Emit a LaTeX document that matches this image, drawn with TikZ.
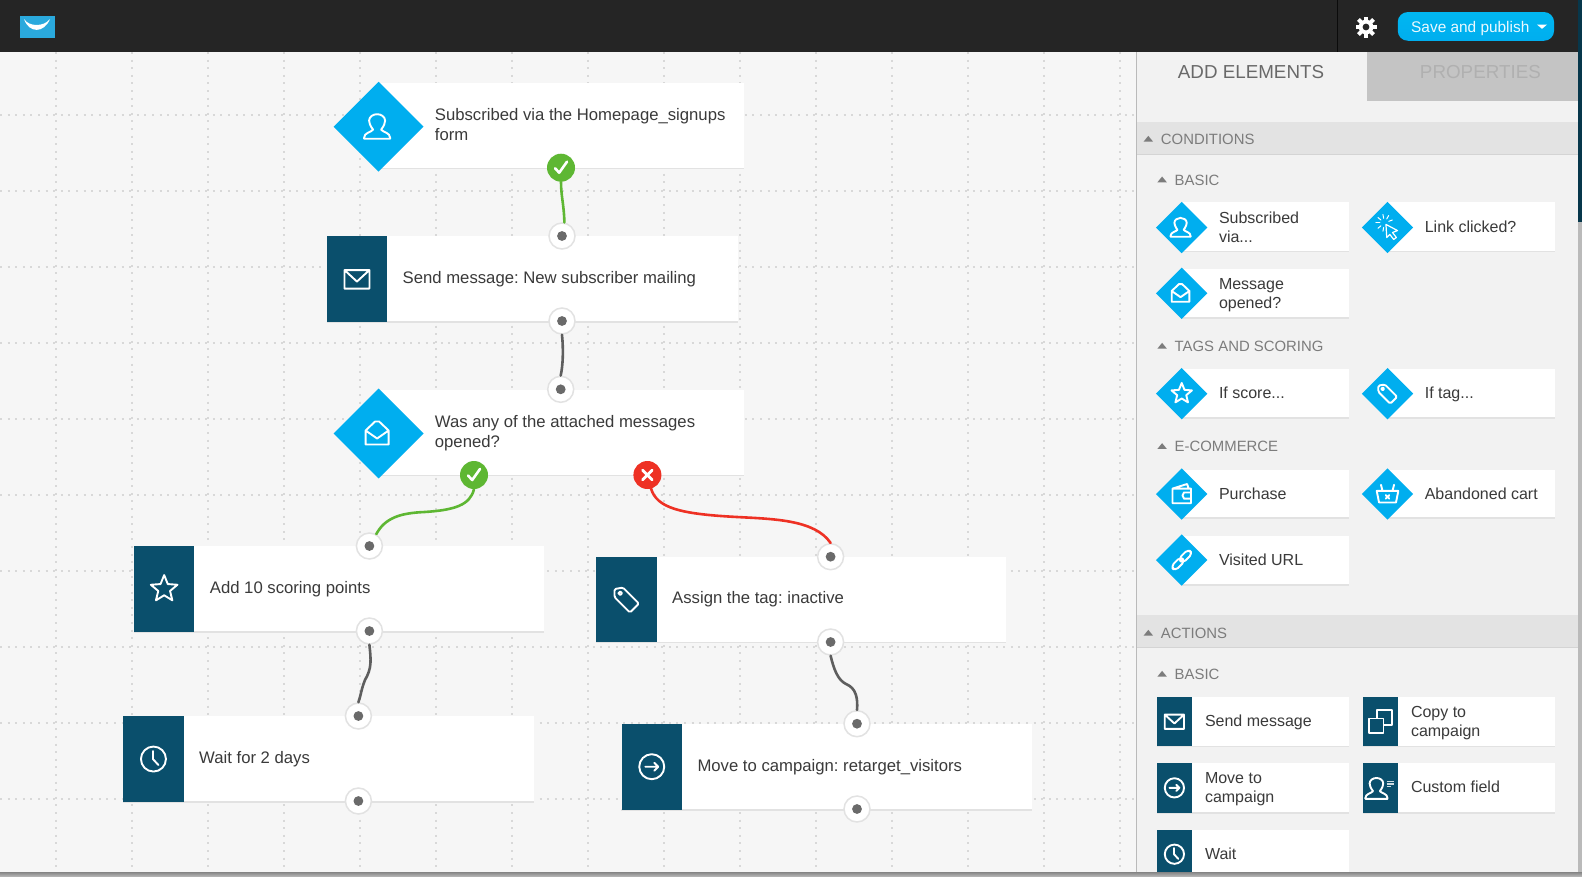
\documentclass[tikz,border=0pt]{standalone}
\usepackage{fontspec}
\setmainfont{Liberation Sans}
\usetikzlibrary{shapes.geometric,calc}
\AtBeginDocument{\frenchspacing}
\definecolor{canvasbg}{HTML}{F6F6F6}
\definecolor{panelbg}{HTML}{F2F2F2}
\definecolor{headerbg}{HTML}{252525}
\definecolor{brandblue}{HTML}{00AEEF}
\definecolor{navy}{HTML}{0A4F6C}
\definecolor{inktext}{HTML}{3A3A3A}
\definecolor{sectext}{HTML}{7C7C7C}
\definecolor{rulegray}{HTML}{E2E2E2}
\definecolor{griddot}{HTML}{D8D8D8}
\definecolor{okgreen}{HTML}{5EB733}
\definecolor{nored}{HTML}{EE3124}
\definecolor{wiregray}{HTML}{5E5E5E}
\definecolor{portdot}{HTML}{6A6A6A}
\definecolor{logoblue}{HTML}{2AA9DD}
\tikzset{
  cardbody/.style={rectangle,fill=white,draw=none,inner sep=0pt,anchor=north west},
  cardrule/.style={draw=rulegray,line width=1.8pt},
  navyblock/.style={rectangle,fill=navy,draw=none,inner sep=0pt,anchor=north west},
  bluediamond/.style={diamond,aspect=1,fill=brandblue,draw=none,inner sep=0pt},
  bigtext/.style={anchor=west,align=left,inner sep=0pt,text=inktext,font=\fontsize{16.7}{20}\selectfont},
  smalltext/.style={anchor=west,align=left,inner sep=0pt,text=inktext,font=\fontsize{16}{19}\selectfont},
  headtext/.style={anchor=west,inner sep=0pt,text=sectext,font=\fontsize{14.9}{18}\selectfont},
  tabtext/.style={anchor=center,inner sep=0pt,font=\fontsize{18.8}{22}\selectfont},
  foldtri/.style={fill=sectext},
  portnode/.style={circle,fill=white,draw=rulegray,line width=1.5pt,minimum size=26pt,inner sep=0pt,
    path picture={\fill[portdot] (path picture bounding box.center) circle (4.9);}},
  oknode/.style={circle,fill=okgreen,draw=none,minimum size=28pt,inner sep=0pt,
    path picture={\draw[white,line width=2.6pt,line cap=round,line join=round]
      ([shift={(-6,0.5)}]path picture bounding box.center) -- ([shift={(-1.8,5)}]path picture bounding box.center) -- ([shift={(6,-6)}]path picture bounding box.center);}},
  nonode/.style={circle,fill=nored,draw=none,minimum size=28pt,inner sep=0pt,
    path picture={\draw[white,line width=2.8pt,line cap=round]
      ([shift={(-4.8,-4.8)}]path picture bounding box.center) -- ([shift={(4.8,4.8)}]path picture bounding box.center)
      ([shift={(4.8,-4.8)}]path picture bounding box.center) -- ([shift={(-4.8,4.8)}]path picture bounding box.center);}},
  wire/.style={line width=2.6pt,line cap=round},
  iconline/.style={draw=white,line width=1.9pt,line join=round,line cap=round},
  person/.pic={\draw[iconline,pic actions,xshift=-1.5pt] (-13,11) .. controls (-13,6) and (-6,5.5) .. (-4,3)
     .. controls (-7,-1) and (-8,-4) .. (-8,-6) .. controls (-8,-10) and (-4,-12.5) .. (0,-12.5)
     .. controls (4,-12.5) and (8,-10) .. (8,-6) .. controls (8,-4) and (7,-1) .. (4,3)
     .. controls (6,5.5) and (13,6) .. (13,11) -- (13,12) -- (-13,12) -- cycle;},
  mailicon/.pic={\draw[iconline,pic actions] (-12.5,-9) rectangle (12.5,9.5) (-12.5,-9) -- (0,2.5) -- (12.5,-9);},
  openmail/.pic={\draw[iconline,pic actions,xshift=-1.5pt] (-11.5,-3) -- (-2,-12) -- (2,-12) -- (11.5,-3) -- (11.5,11) -- (-11.5,11) -- cycle
     (-11.5,-3) -- (0,5) -- (11.5,-3);},
  staricon/.pic={\draw[iconline,pic actions] (0,-14) -- (3.6,-5) -- (13.3,-4.3) -- (5.9,1.9) -- (8.2,11.3) -- (0,6.2)
     -- (-8.2,11.3) -- (-5.9,1.9) -- (-13.3,-4.3) -- (-3.6,-5) -- cycle;},
  tagicon/.pic={\draw[iconline,pic actions,rounded corners=1.5pt] (-12,-10.5) -- (-3.5,-12) -- (12.5,4) -- (3.5,13) -- (-12,-2.5) -- cycle;
     \draw[iconline,pic actions] (-6.3,-6.3) circle (1.8);},
  clockicon/.pic={\draw[iconline,pic actions] (0,0) circle (12.5) (-0.5,-8) -- (-0.5,0) -- (5,6);},
  arrowicon/.pic={\draw[iconline,pic actions] (0,0) circle (12.5) (-6.5,0) -- (6.5,0) (2.5,-4) -- (6.5,0) -- (2.5,4);},
  cursoricon/.pic={\draw[iconline,pic actions,line width=1.2pt] (-2,-4) -- (13,4) -- (6.5,6.5) -- (11.5,13) -- (8,15.5) -- (3,9) -- (-1,13) -- cycle;
     \foreach \a in {100,140,180,220,260,300,340}{\draw[iconline,pic actions,line width=1pt] ($(-4,-6)+(\a:6)$) -- ($(-4,-6)+(\a:11)$);}},
  walleticon/.pic={\draw[iconline,pic actions] (-12,-7) -- (-12,12) -- (12,12) -- (12,-7) -- cycle (-12,-7) -- (7,-13) -- (9,-7)
     (12,-2) -- (3,-2) -- (1,2) -- (3,6) -- (12,6);},
  basketicon/.pic={\draw[iconline,pic actions] (-14,-4) -- (14,-4) -- (11,11) -- (-11,11) -- cycle
     (-6.5,-4) -- (-8.5,-12) (6.5,-4) -- (8.5,-12) (-2.3,1.5) -- (2.3,6) (2.3,1.5) -- (-2.3,6);},
  linkicon/.pic={\begin{scope}[rotate=45]
     \draw[iconline,pic actions,rounded corners=4pt] (-16,-4) rectangle (2,4);
     \draw[iconline,pic actions,rounded corners=4pt] (-2,-4) rectangle (16,4);\end{scope}},
  copyicon/.pic={\draw[iconline,pic actions] (-4,-15) rectangle (15,4);
     \draw[iconline,pic actions,fill=navy] (-15,-4) rectangle (4,15);},
  fieldicon/.pic={\pic[scale=.85] at (-3.5,1) {person};
     \draw[draw=white!80!navy,line width=1.4pt,pic actions] (8,-8) -- (17,-8) (8,-5) -- (17,-5) (8,-2) -- (14,-2);},
  smallicon/.style={scale=.77,line width=1.35pt},
}
% name, cx, cy, right, top, bottom, icon, text
\newcommand\bigcond[8]{%
  \node[cardbody,minimum width=#4-#2,minimum height=#6-#5] (#1) at (#2,#5) {};
  \draw[cardrule] (#1.south west) -- (#1.south east);
  \node[bluediamond,minimum width=90pt,minimum height=90pt] (#1-icon) at (#2,#3) {};
  \pic at (#1-icon.center) {#7};
  \node[bigtext] (#1-text) at (#2+56.1,#3-.2) {#8};}
\newcommand\smallcond[8]{%
  \node[cardbody,minimum width=#4-#2,minimum height=#6-#5] (#1) at (#2,#5) {};
  \draw[cardrule] (#1.south west) -- (#1.south east);
  \node[bluediamond,minimum width=51.6pt,minimum height=51.6pt] (#1-icon) at (#2,#3) {};
  \pic[smallicon] at (#1-icon.center) {#7};
  \node[smalltext] (#1-text) at (#2+37.1,#3+1.4) {#8};}
% name, left, right, top, bottom, icon, text
\newcommand\bigact[7]{%
  \node[cardbody,minimum width=#3-#2,minimum height=#5-#4] (#1) at (#2,#4) {};
  \draw[cardrule] (#1.south west) -- (#1.south east);
  \node[navyblock,minimum width=60.5pt,minimum height=#5-#4] (#1-icon) at (#2,#4) {};
  \pic at (#1-icon.center) {#6};
  \node[bigtext] (#1-text) at (#2+76,{(#4+#5)/2+.5}) {#7};}
\newcommand\smallact[7]{%
  \node[cardbody,minimum width=#3-#2,minimum height=#5-#4] (#1) at (#2,#4) {};
  \draw[cardrule] (#1.south west) -- (#1.south east);
  \node[navyblock,minimum width=35pt,minimum height=#5-#4] (#1-icon) at (#2,#4) {};
  \pic[smallicon] at (#1-icon.center) {#6};
  \node[smalltext] (#1-text) at (#2+48.1,{(#4+#5)/2+1.4}) {#7};}
% name, x of triangle, y, text
\newcommand\foldhead[4]{%
  \fill[foldtri] (#2,#3+2.6) -- (#2+9.4,#3+2.6) -- (#2+4.7,#3-3.2) -- cycle;
  \node[headtext] (#1) at (#2+17.1,#3+1.7) {\strut #4};}
\begin{document}
\begin{tikzpicture}[x=1pt,y=-1pt]
\useasboundingbox (0,0) rectangle (1582,876);
\clip (0,0) rectangle (1582,876);
% backgrounds
\fill[canvasbg] (0,0) rectangle (1582,876);
\foreach \i in {0,...,14}{
  \draw[griddot,line width=1.7pt,dash pattern=on 1.9pt off 5.7pt] ({55.7+76*\i},52) -- ({55.7+76*\i},872);}
\foreach \i in {0,...,9}{
  \draw[griddot,line width=1.7pt,dash pattern=on 1.9pt off 5.7pt] (0,{115+76*\i}) -- (1136,{115+76*\i});}
% header
\fill[headerbg] (0,0) rectangle (1578,52);
\draw[black!70!headerbg,line width=1pt] (1337,0) -- (1337,52);
\fill[logoblue] (19.5,16) rectangle (54.5,37.5);
\fill[white] (24,19) .. controls (29,33.5) and (44,33.5) .. (50,19) .. controls (44,27) and (29,27) .. cycle;
% gear
\foreach \a in {0,45,...,315}{\fill[white,rotate around={\a:(1366,27)}] (1364.1,16.5) rectangle (1367.9,37.5);}
\fill[white] (1366,27) circle (7.3);
\fill[headerbg] (1366,27) circle (3.4);
% publish button
\node[rectangle,rounded corners=10pt,top color=brandblue!90!cyan,bottom color=brandblue,minimum width=156.3pt,minimum height=28.7pt,inner sep=0pt] (publish) at (1475.9,26.4) {};
\node[anchor=west,inner sep=0pt,text=white!92!brandblue,font=\fontsize{15.4}{18}\selectfont] (publish-text) at (1411,29) {\strut Save and publish};
\fill[white] (1537,24.6) -- (1547,24.6) -- (1542,28.8) -- cycle;
% side panel
\fill[panelbg] (1137,52) rectangle (1578,872);
\draw[black!27,line width=1.5pt] (1136.6,52) -- (1136.6,872);
\fill[black!23] (1366.7,52) rectangle (1578,100.7);
\node[tabtext,text=sectext!85!black] (tab-add) at (1251,74) {\strut ADD ELEMENTS};
\node[tabtext,text=black!31] (tab-prop) at (1480.4,74) {\strut PROPERTIES};
\fill[black!11] (1137,121.7) rectangle (1578,154.3);
\draw[black!17,line width=1pt] (1137,154) -- (1578,154);
\fill[black!11] (1137,615.3) rectangle (1578,648);
\draw[black!17,line width=1pt] (1137,647.7) -- (1578,647.7);
\foldhead{h-cond}{1143.6}{139}{CONDITIONS}
\foldhead{h-basic}{1157.4}{179.7}{BASIC}
\foldhead{h-tags}{1157.4}{346}{TAGS AND SCORING}
\foldhead{h-ecom}{1157.4}{446.3}{E-COMMERCE}
\foldhead{h-act}{1143.6}{633}{ACTIONS}
\foldhead{h-abasic}{1157.4}{674}{BASIC}
% palette
\smallcond{p1}{1181.7}{227.5}{1349}{202}{251}{person}{\strut Subscribed\\\strut via...}
\smallcond{p2}{1387.5}{227.5}{1554.3}{202}{251}{cursoricon}{\strut Link clicked?}
\smallcond{p3}{1181.7}{293.3}{1349}{268.3}{317.7}{openmail}{\strut Message\\\strut opened?}
\smallcond{p4}{1181.7}{393.7}{1349}{369}{417.3}{staricon}{\strut If score...}
\smallcond{p5}{1387.5}{393.7}{1554.3}{369}{417.3}{tagicon}{\strut If tag...}
\smallcond{p6}{1181.7}{494}{1349}{469.3}{517.7}{walleticon}{\strut Purchase}
\smallcond{p7}{1387.5}{494}{1554.3}{469.3}{517.7}{basketicon}{\strut Abandoned cart}
\smallcond{p8}{1181.7}{560}{1349}{536}{584.3}{linkicon}{\strut Visited URL}
\smallact{q1}{1156.7}{1349}{696.7}{746}{mailicon}{\strut Send message}
\smallact{q2}{1362.7}{1554.3}{696.7}{746}{copyicon}{\strut Copy to\\\strut campaign}
\smallact{q3}{1156.7}{1349}{763}{812.3}{arrowicon}{\strut Move to\\\strut campaign}
\smallact{q4}{1362.7}{1554.3}{763}{812.3}{fieldicon}{\strut Custom field}
\smallact{q5}{1156.7}{1349}{829.3}{878.7}{clockicon}{\strut Wait}
% flow
\bigcond{n1}{378.6}{126.7}{744}{82.7}{168}{person}{\strut Subscribed via the Homepage\_signups\\\strut form}
\bigact{n2}{326.5}{737.8}{236}{321.7}{mailicon}{\strut Send message: New subscriber mailing}
\bigcond{n3}{378.6}{433.5}{744}{389.5}{475}{openmail}{\strut Was any of the attached messages\\\strut opened?}
\bigact{n4}{133.7}{544}{546}{631.7}{staricon}{\strut Add 10 scoring points}
\bigact{n5}{596}{1006}{556.7}{642}{tagicon}{\strut Assign the tag: inactive}
\bigact{n6}{123}{533.6}{716}{801.7}{clockicon}{\strut Wait for 2 days}
\bigact{n7}{621.3}{1032}{723.7}{809.3}{arrowicon}{\strut Move to campaign: retarget\_visitors}
% ports
\node[oknode] (ok1) at (561,167.7) {};
\node[portnode] (in2) at (562,236) {};
\node[portnode] (out2) at (562,321) {};
\node[portnode] (in3) at (560.7,389.3) {};
\node[oknode] (ok3) at (474,475) {};
\node[nonode] (no3) at (647.4,475) {};
\node[portnode] (in4) at (369.4,546) {};
\node[portnode] (out4) at (369.4,631) {};
\node[portnode] (in5) at (830.6,556.7) {};
\node[portnode] (out5) at (830.6,642) {};
\node[portnode] (in6) at (358.4,716) {};
\node[portnode] (out6) at (358.4,801) {};
\node[portnode] (in7) at (857,723.7) {};
\node[portnode] (out7) at (857,809) {};
% connectors
\draw[wire,okgreen] (ok1.south) .. controls (561,196) and (564,205) .. (in2.80);
\draw[wire,wiregray] (out2.south) .. controls (563.5,350) and (563,365) .. (in3.north);
\draw[wire,okgreen] (ok3.south) .. controls (470,505) and (455,510) .. (424.6,512) .. controls (400,513) and (385,518) .. (in4.60);
\draw[wire,nored] (no3.-75) .. controls (657,508) and (680,514) .. (737,517) .. controls (775,519) and (815,520) .. (in5.north);
\draw[wire,wiregray] (out4.south) .. controls (371,660) and (372,668) .. (365,680) .. controls (361,690) and (361,695) .. (in6.north);
\draw[wire,wiregray] (out5.south) .. controls (834,670) and (838,680) .. (846,684) .. controls (856,688) and (858,698) .. (in7.north);
% page edges
\fill[navy!70!black] (1578,0) rectangle (1582,222);
\fill[black!27] (1578,222) rectangle (1582,876);
\shade[top color=black!48,bottom color=black!30] (0,872) rectangle (1582,876);
\end{tikzpicture}
\end{document}
